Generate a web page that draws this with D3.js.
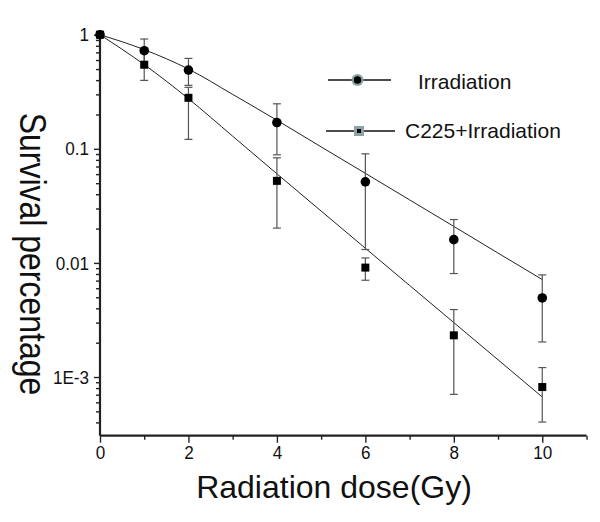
<!DOCTYPE html>
<html>
<head>
<meta charset="utf-8">
<script src="https://cdn.jsdelivr.net/npm/d3@7"></script>
<style>
  html, body { margin: 0; padding: 0; background: #fff; }
  svg { display: block; font-family: Arial, "Liberation Sans", sans-serif; }
</style>
</head>
<body>
<svg id="chart" width="600" height="522"></svg>
<script>
// ---- data ----
const doses = [0, 1, 2, 4, 6, 8, 10];
const irrMean  = [1, 0.724, 0.49, 0.17, 0.0514, 0.016, 0.00493];
const irrUpper = [1, 0.917, 0.62, 0.248, 0.0904, 0.024, 0.00785];
const irrLower = [1, 0.53, 0.36, 0.0886, 0.0131, 0.00807, 0.00203];
const c225Mean  = [1, 0.546, 0.28, 0.0524, 0.0091, 0.00232, 0.000817];
const c225Upper = [1, 0.69, 0.346, 0.0834, 0.01106, 0.0039, 0.00121];
const c225Lower = [1, 0.398, 0.121, 0.0202, 0.00705, 0.000705, 0.000403];
const fitDoses = [0, 1, 2, 3, 4, 5, 6, 7, 8, 9, 10];
const irrFit  = [1, 0.74, 0.50, 0.30, 0.178, 0.104, 0.061, 0.0357, 0.0209, 0.0122, 0.00715];
const c225Fit = [1, 0.547, 0.275, 0.129, 0.0604, 0.0285, 0.01345, 0.00635, 0.0030, 0.001416, 0.000668];
const xTickValues = [0, 2, 4, 6, 8, 10];
const xMinorTicks = [1, 3, 5, 7, 9, 11];
const yTickValues = [1, 0.1, 0.01, 0.001];
const yTickLabels = ["1", "0.1", "0.01", "1E-3"];
const seriesNames = ["Irradiation", "C225+Irradiation"];
const xTitle = "Radiation dose(Gy)";
const yTitle = "Survival percentage";

// ---- layout ----
const svg = d3.select("#chart");
const x = d3.scaleLinear().domain([0, 11]).range([100, 586.5]);
const y = d3.scaleLog().domain([3.06e-4, 1.1]).range([435.7, 30]);

// minor log ticks
const yMinor = [];
for (let e = -4; e <= 0; e++) {
  for (let m = 2; m <= 9; m++) {
    const v = m * Math.pow(10, e);
    if (v >= 3.06e-4 && v <= 1.1) yMinor.push(v);
  }
}

const axisColor = "#222";
const sx = 0.9; // horizontal squeeze of tick labels

const xAxis = d3.axisBottom(x).tickValues(xTickValues).tickFormat(d3.format("d")).tickSize(7).tickPadding(3);
const gx = svg.append("g").attr("transform", "translate(0,435.7)").call(xAxis);
svg.append("g").attr("transform", "translate(0,435.7)")
  .call(d3.axisBottom(x).tickValues(xMinorTicks).tickFormat("").tickSize(4))
  .call(g => g.select(".domain").remove());

const yAxis = d3.axisLeft(y).tickValues(yTickValues)
  .tickFormat((d, i) => yTickLabels[i]).tickSize(6).tickPadding(5);
const gy = svg.append("g").attr("transform", "translate(100,0)").call(yAxis);
svg.append("g").attr("transform", "translate(100,0)")
  .call(d3.axisLeft(y).tickValues(yMinor).tickFormat("").tickSize(4))
  .call(g => g.select(".domain").remove());

gx.select(".domain").attr("stroke", axisColor).attr("stroke-width", 2.2).attr("d", `M${x(0)},0H${x(11)}`);
gy.select(".domain").attr("stroke", axisColor).attr("stroke-width", 2.2).attr("d", `M0,${y(1.1)}V${y(3.06e-4)}`);

svg.selectAll(".tick line").attr("stroke", axisColor).attr("stroke-width", 1.4);
svg.selectAll(".tick text").attr("font-size", 19).attr("fill", "#111")
  .attr("font-family", "Arial, 'Liberation Sans', sans-serif");
gx.selectAll(".tick text").attr("transform", `scale(${sx},1)`);
gy.selectAll(".tick text").attr("x", -11 / sx).attr("transform", `scale(${sx},1)`);

// fit lines
const line = d3.line().x(d => x(d[0])).y(d => y(d[1])).curve(d3.curveMonotoneX);
[irrFit, c225Fit].forEach(fit => {
  svg.append("path")
    .datum(fitDoses.map((d, i) => [d, fit[i]]))
    .attr("d", line)
    .attr("fill", "none")
    .attr("stroke", "#222")
    .attr("stroke-width", 1);
});

// error bars
function errorBars(lower, upper) {
  const g = svg.append("g").attr("stroke", "#555").attr("stroke-width", 1.2);
  doses.forEach((d, i) => {
    if (lower[i] === upper[i]) return;
    const cx = x(d);
    g.append("line").attr("x1", cx).attr("x2", cx).attr("y1", y(upper[i])).attr("y2", y(lower[i]));
    g.append("line").attr("x1", cx - 4).attr("x2", cx + 4).attr("y1", y(upper[i])).attr("y2", y(upper[i]));
    g.append("line").attr("x1", cx - 4).attr("x2", cx + 4).attr("y1", y(lower[i])).attr("y2", y(lower[i]));
  });
}
errorBars(irrLower, irrUpper);
errorBars(c225Lower, c225Upper);

// markers
svg.append("g").selectAll("circle").data(doses).join("circle")
  .attr("cx", d => x(d)).attr("cy", (d, i) => y(irrMean[i])).attr("r", 4.8).attr("fill", "#000");
svg.append("g").selectAll("rect").data(doses).join("rect")
  .attr("x", d => x(d) - 4).attr("y", (d, i) => y(c225Mean[i]) - 4)
  .attr("width", 8).attr("height", 8).attr("fill", "#000");

// legend
const lg = svg.append("g");
lg.append("line").attr("x1", 328).attr("x2", 391).attr("y1", 80).attr("y2", 80).attr("stroke", "#111").attr("stroke-width", 1.3);
lg.append("circle").attr("cx", 357.5).attr("cy", 80).attr("r", 6).attr("fill", "#8aa3a3");
lg.append("circle").attr("cx", 357.5).attr("cy", 80).attr("r", 3.8).attr("fill", "#000");
lg.append("text").attr("x", 418).attr("y", 89).attr("font-size", 21).attr("fill", "#111").text(seriesNames[0]);
lg.append("line").attr("x1", 326).attr("x2", 395).attr("y1", 131).attr("y2", 131).attr("stroke", "#111").attr("stroke-width", 1.3);
lg.append("rect").attr("x", 354).attr("y", 126).attr("width", 10).attr("height", 10).attr("fill", "#8aa3a3");
lg.append("rect").attr("x", 357).attr("y", 129).attr("width", 4).attr("height", 4).attr("fill", "#000");
lg.append("text").attr("x", 405).attr("y", 138).attr("font-size", 21).attr("fill", "#111").text(seriesNames[1]);

// titles
svg.append("text").attr("x", 334).attr("y", 498).attr("text-anchor", "middle")
  .attr("font-size", 32).attr("fill", "#111").text(xTitle);
svg.append("text").attr("transform", "translate(20,254) rotate(90) scale(1,1.18)")
  .attr("text-anchor", "middle").attr("font-size", 32).attr("fill", "#111").text(yTitle);
</script>
</body>
</html>
